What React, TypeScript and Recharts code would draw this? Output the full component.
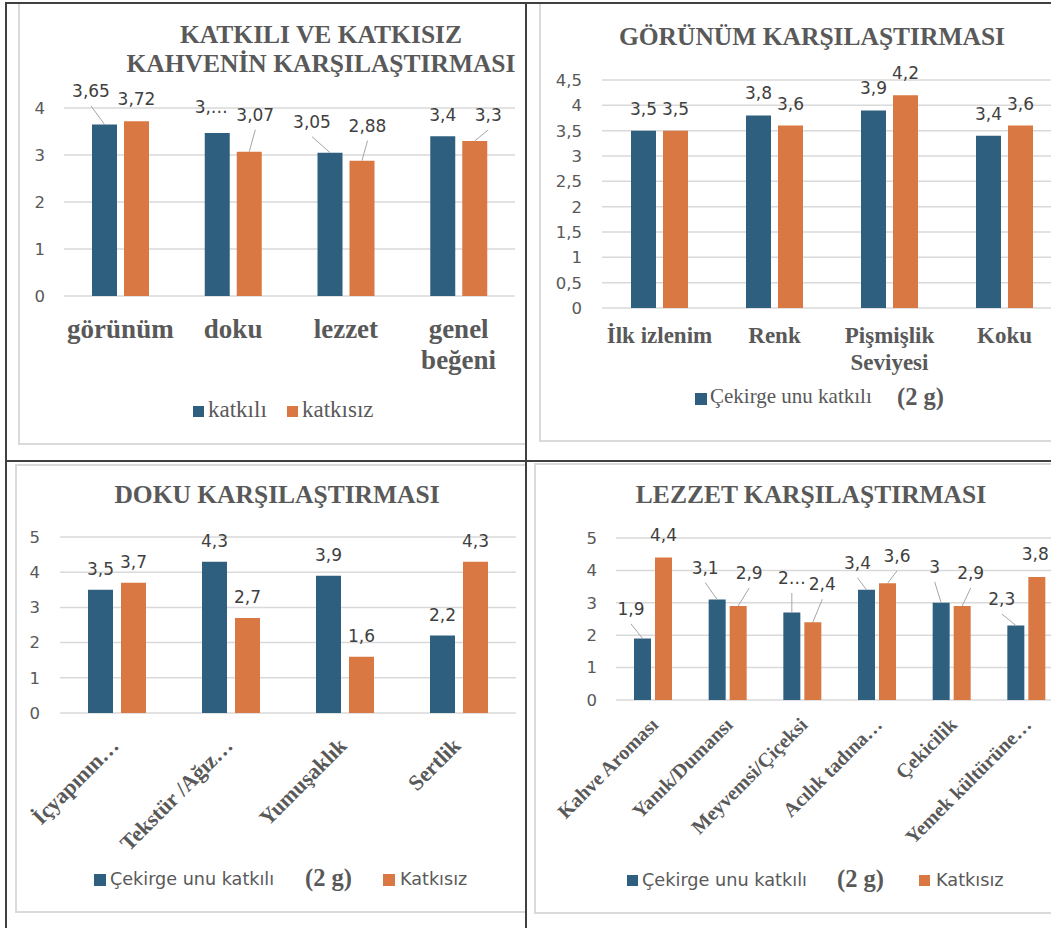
import React from 'react'
import { BarChart, Bar, XAxis, YAxis, CartesianGrid, LabelList } from 'recharts'

const SERIF = '"Liberation Serif", "Times New Roman", serif'
const SANS = '"DejaVu Sans", Verdana, sans-serif'
const BLUE = '#2e5f7f'
const ORANGE = '#d97842'
const TEXT = '#595959'
const GRID = '#d9d9d9'

// 1) katkılı ve katkısız kahve
const genelKategoriler = ['görünüm', 'doku', 'lezzet', 'genel beğeni']
const genelKatkili = [3.65, 3.47, 3.05, 3.4]
const genelKatkisiz = [3.72, 3.07, 2.88, 3.3]
const genelTicks = [0, 1, 2, 3, 4]

// 2) görünüm
const gorunumKategoriler = ['İlk izlenim', 'Renk', 'Pişmişlik Seviyesi', 'Koku']
const gorunumKatkili = [3.5, 3.8, 3.9, 3.4]
const gorunumKatkisiz = [3.5, 3.6, 4.2, 3.6]
const gorunumTicks = [0, 0.5, 1, 1.5, 2, 2.5, 3, 3.5, 4, 4.5]

// 3) doku
const dokuKategoriler = ['İçyapının…', 'Tekstür /Ağız…', 'Yumuşaklık', 'Sertlik']
const dokuKatkili = [3.5, 4.3, 3.9, 2.2]
const dokuKatkisiz = [3.7, 2.7, 1.6, 4.3]
const dokuTicks = [0, 1, 2, 3, 4, 5]

// 4) lezzet
const lezzetKategoriler = ['Kahve Aroması', 'Yanık/Dumansı', 'Meyvemsi/Çiçeksi', 'Acılık tadına…', 'Çekicilik', 'Yemek kültürüne…']
const lezzetKatkili = [1.9, 3.1, 2.7, 3.4, 3, 2.3]
const lezzetKatkisiz = [4.4, 2.9, 2.4, 3.6, 2.9, 3.8]
const lezzetTicks = [0, 1, 2, 3, 4, 5]

// labels that the original shows cut off
const genelKatkiliKisa: Record<number, string> = { 1: '3,…' }
const lezzetKatkiliKisa: Record<number, string> = { 2: '2…' }

// label placement: [dx, dy, leader line] from bar top centre
type Yer = [number, number, boolean]
const genelKatkiliYer: Yer[] = [[-13.5, -33.5, true], [-6, -26, false], [-18, -31, true], [0, -21, false]]
const genelKatkisizYer: Yer[] = [[0, -22, false], [6, -37, true], [5.5, -35, true], [13.5, -26, true]]
const lezzetKatkiliYer: Yer[] = [[-11.5, -29.5, true], [-12, -32, true], [0, -34.5, true], [-9, -27, true], [-6.5, -36, true], [-14, -26.5, true]]
const lezzetKatkisizYer: Yer[] = [[0, -22, false], [11, -33, true], [9.5, -38, true], [9.5, -27.5, true], [8.5, -33, true], [-1.5, -23, false]]

const virgul = (v: number) => String(v).replace('.', ',')

let ctx: CanvasRenderingContext2D | null = null
function olc(text: string, font: string) {
  if (!ctx) ctx = document.createElement('canvas').getContext('2d')
  if (!ctx) return text.length * 12
  ctx.font = font
  return ctx.measureText(text).width
}

function sar(text: string, font: string, maxW: number) {
  const lines: string[] = []
  let cur = ''
  for (const w of text.split(' ')) {
    const t = cur ? cur + ' ' + w : w
    if (cur && olc(t, font) > maxW) {
      lines.push(cur)
      cur = w
    } else cur = t
  }
  if (cur) lines.push(cur)
  return lines
}

const etiket = (yer: Yer[] | null, dfy: number, kisa?: Record<number, string>) => (p: any) => {
  const x = Number(p.x), y = Number(p.y), w = Number(p.width)
  const i = p.index as number
  const cx = x + w / 2
  const [dx, dy, leader] = (yer && yer[i]) || [0, dfy, false]
  const lx = cx + dx
  const ly = y + dy
  const txt = (kisa && kisa[i]) || virgul(Number(p.value))
  return (
    <g>
      {leader && <line x1={lx} y1={ly + 15} x2={cx} y2={y} stroke="#a6a6a6" strokeWidth={1} />}
      <text x={lx} y={ly} textAnchor="middle" dominantBaseline="central" fontFamily={SANS} fontSize={17} fill="#404040">
        {txt}
      </text>
    </g>
  )
}

const sarTick = (size: number, dy: number, lh: number, maxW: number) => (p: any) => {
  const { x, y, payload } = p
  const font = `bold ${size}px "Liberation Serif"`
  const lines = sar(String(payload.value), font, maxW)
  return (
    <text x={x} y={y + dy} textAnchor="middle" fontFamily={SERIF} fontWeight="bold" fontSize={size} fill={TEXT}>
      {lines.map((l, i) => (
        <tspan key={i} x={x} dy={i === 0 ? 0 : lh}>{l}</tspan>
      ))}
    </text>
  )
}

const egikTick = (ax: number, ay: number, size: number) => (p: any) => {
  const tx = p.x + ax
  const ty = p.y + ay
  return (
    <text x={tx} y={ty} textAnchor="end" transform={`rotate(-45 ${tx} ${ty})`} fontFamily={SERIF} fontWeight="bold" fontSize={size} fill={TEXT}>
      {p.payload.value}
    </text>
  )
}

type Rect = { x: number; y: number; w: number; h: number }

interface PanelProps {
  cell: Rect
  frame: Rect
  box: Rect
  margin: { top: number; right: number; bottom: number; left: number }
  yWidth: number
  tickGap: number
  xHeight: number
  xTick: any
  categories: string[]
  a: number[]
  b: number[]
  aYer?: Yer[]
  bYer?: Yer[]
  aKisa?: Record<number, string>
  labelDy: number
  ticks: number[]
  barSize: number
  barGap: number
  title: string[]
  titleX: number
  titleY: number
  titleLh?: number
  legend: React.ReactNode
}

function Panel(p: PanelProps) {
  const rows = p.categories.map((name, i) => ({ name, a: p.a[i], b: p.b[i] }))
  const { cell } = p
  const max = p.ticks[p.ticks.length - 1]
  return (
    <div style={{ position: 'absolute', left: cell.x, top: cell.y, width: cell.w, height: cell.h, overflow: 'hidden' }}>
      <div
        style={{
          position: 'absolute',
          left: p.frame.x - cell.x,
          top: p.frame.y - cell.y,
          width: p.frame.w,
          height: p.frame.h,
          border: '2px solid #dadada',
          boxSizing: 'border-box',
        }}
      />
      <div style={{ position: 'absolute', left: p.box.x - cell.x, top: p.box.y - cell.y }}>
        <BarChart width={p.box.w} height={p.box.h} data={rows} margin={p.margin} barSize={p.barSize} barGap={p.barGap}>
          <CartesianGrid vertical={false} stroke={GRID} strokeWidth={1.5} />
          <XAxis
            dataKey="name"
            interval={0}
            axisLine={false}
            tickLine={false}
            tickSize={0}
            tickMargin={0}
            height={p.xHeight}
            tick={p.xTick}
          />
          <YAxis
            domain={[0, max]}
            ticks={p.ticks}
            interval={0}
            width={p.yWidth}
            axisLine={false}
            tickLine={false}
            tickSize={0}
            tickMargin={p.tickGap}
            tickFormatter={virgul}
            tick={{ fill: TEXT, fontSize: 16.5, fontFamily: SANS }}
          />
          <Bar dataKey="a" fill={BLUE} isAnimationActive={false}>
            <LabelList dataKey="a" content={etiket(p.aYer || null, p.labelDy, p.aKisa)} />
          </Bar>
          <Bar dataKey="b" fill={ORANGE} isAnimationActive={false}>
            <LabelList dataKey="b" content={etiket(p.bYer || null, p.labelDy)} />
          </Bar>
        </BarChart>
      </div>
      <svg style={{ position: 'absolute', left: 0, top: 0 }} width={cell.w} height={cell.h}>
        <g transform={`translate(${-cell.x} ${-cell.y})`}>
          {p.title.map((t, i) => (
            <text
              key={i}
              x={p.titleX}
              y={p.titleY + i * (p.titleLh || 0)}
              textAnchor="middle"
              fontFamily={SERIF}
              fontWeight="bold"
              fontSize={25.5}
              fill={TEXT}
            >
              {t}
            </text>
          ))}
          {p.legend}
        </g>
      </svg>
    </div>
  )
}

const Kare = ({ x, y, s, color }: { x: number; y: number; s: number; color: string }) => (
  <rect x={x} y={y} width={s} height={s} fill={color} />
)

const Yazi = ({ x, y, size, serif, bold, children }: any) => (
  <text x={x} y={y} fontFamily={serif ? SERIF : SANS} fontWeight={bold ? 'bold' : 'normal'} fontSize={size} fill={TEXT}>
    {children}
  </text>
)

export default function App() {
  return (
    <div style={{ position: 'absolute', left: 0, top: 0, width: 1051, height: 928, background: '#fff', overflow: 'hidden' }}>
      <Panel
        cell={{ x: 7, y: 4, w: 518, h: 456 }}
        frame={{ x: 18, y: -20, w: 620, h: 465 }}
        box={{ x: 18, y: 0, w: 530, h: 444 }}
        margin={{ top: 108, right: 33, bottom: 98, left: 6 }}
        yWidth={40}
        tickGap={19}
        xHeight={50}
        xTick={sarTick(27, 42, 31, 110)}
        categories={genelKategoriler}
        a={genelKatkili}
        b={genelKatkisiz}
        aYer={genelKatkiliYer}
        bYer={genelKatkisizYer}
        aKisa={genelKatkiliKisa}
        labelDy={-22}
        ticks={genelTicks}
        barSize={25}
        barGap={7}
        title={['KATKILI VE KATKISIZ', 'KAHVENİN KARŞILAŞTIRMASI']}
        titleX={321}
        titleY={43}
        titleLh={29}
        legend={
          <g>
            <Kare x={193} y={406} s={11} color={BLUE} />
            <Yazi x={208} y={417} size={23} serif>katkılı</Yazi>
            <Kare x={287} y={406} s={11} color={ORANGE} />
            <Yazi x={302} y={417} size={23} serif>katkısız</Yazi>
          </g>
        }
      />
      <Panel
        cell={{ x: 527, y: 4, w: 524, h: 456 }}
        frame={{ x: 539, y: -20, w: 620, h: 462 }}
        box={{ x: 539, y: 0, w: 560, h: 441 }}
        margin={{ top: 80, right: 37, bottom: 83, left: 8 }}
        yWidth={55}
        tickGap={20}
        xHeight={50}
        xTick={sarTick(23, 35, 27, 112)}
        categories={gorunumKategoriler}
        a={gorunumKatkili}
        b={gorunumKatkisiz}
        labelDy={-22}
        ticks={gorunumTicks}
        barSize={25}
        barGap={7}
        title={['GÖRÜNÜM KARŞILAŞTIRMASI']}
        titleX={812}
        titleY={45}
        legend={
          <g>
            <Kare x={695} y={393} s={12} color={BLUE} />
            <Yazi x={710} y={403} size={21} serif>Çekirge unu katkılı</Yazi>
            <Yazi x={897} y={405} size={24.5} serif bold>(2 g)</Yazi>
          </g>
        }
      />
      <Panel
        cell={{ x: 7, y: 462, w: 518, h: 466 }}
        frame={{ x: 15, y: 464, w: 620, h: 449 }}
        box={{ x: 15, y: 464, w: 530, h: 448 }}
        margin={{ top: 73, right: 29, bottom: 149, left: 7 }}
        yWidth={38}
        tickGap={20}
        xHeight={50}
        xTick={egikTick(3, 34, 22)}
        categories={dokuKategoriler}
        a={dokuKatkili}
        b={dokuKatkisiz}
        labelDy={-21}
        ticks={dokuTicks}
        barSize={25}
        barGap={8}
        title={['DOKU KARŞILAŞTIRMASI']}
        titleX={277}
        titleY={503}
        legend={
          <g>
            <Kare x={94} y={874} s={12} color={BLUE} />
            <Yazi x={110} y={885} size={17.6}>Çekirge unu katkılı</Yazi>
            <Yazi x={305} y={886} size={24.5} serif bold>(2 g)</Yazi>
            <Kare x={383} y={874} s={12} color={ORANGE} />
            <Yazi x={400} y={885} size={17.6}>Katkısız</Yazi>
          </g>
        }
      />
      <Panel
        cell={{ x: 527, y: 462, w: 524, h: 466 }}
        frame={{ x: 534, y: 463, w: 620, h: 451 }}
        box={{ x: 534, y: 463, w: 560, h: 450 }}
        margin={{ top: 75, right: 30, bottom: 163, left: 22 }}
        yWidth={60}
        tickGap={19}
        xHeight={50}
        xTick={egikTick(6, 26, 20)}
        categories={lezzetKategoriler}
        a={lezzetKatkili}
        b={lezzetKatkisiz}
        aYer={lezzetKatkiliYer}
        bYer={lezzetKatkisizYer}
        aKisa={lezzetKatkiliKisa}
        labelDy={-22}
        ticks={lezzetTicks}
        barSize={17}
        barGap={4}
        title={['LEZZET KARŞILAŞTIRMASI']}
        titleX={811}
        titleY={503}
        legend={
          <g>
            <Kare x={627} y={875} s={11} color={BLUE} />
            <Yazi x={642} y={886} size={17.7}>Çekirge unu katkılı</Yazi>
            <Yazi x={837} y={887} size={24.5} serif bold>(2 g)</Yazi>
            <Kare x={919} y={875} s={11} color={ORANGE} />
            <Yazi x={936} y={886} size={17.7}>Katkısız</Yazi>
          </g>
        }
      />
      {/* table lines */}
      <div style={{ position: 'absolute', left: 5, top: 2, width: 2, height: 926, background: '#404040' }} />
      <div style={{ position: 'absolute', left: 5, top: 2, width: 1046, height: 2, background: '#404040' }} />
      <div style={{ position: 'absolute', left: 525, top: 2, width: 2, height: 926, background: '#404040' }} />
      <div style={{ position: 'absolute', left: 5, top: 460, width: 1046, height: 2, background: '#404040' }} />
    </div>
  )
}
